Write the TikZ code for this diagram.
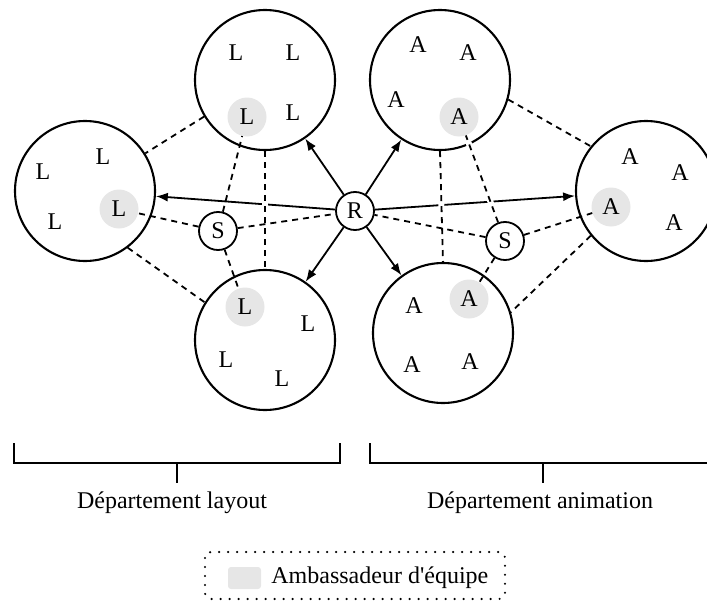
\documentclass[tikz,border=0pt]{standalone}
\usepackage{fontspec}
\setmainfont{Liberation Serif}[Ligatures=TeXOff]
\usepackage{tikz}
\usetikzlibrary{arrows.meta,positioning}
\definecolor{ambgrey}{RGB}{230,230,230}

\begin{document}
\begin{tikzpicture}[
    x=1pt, y=-1pt,
    font=\fontsize{24}{28}\selectfont,
    team/.style={circle, draw, line width=2.1pt, minimum size=140pt, inner sep=0pt},
    hub/.style={circle, draw, line width=1.8pt, minimum size=38pt, inner sep=0pt},
    member/.style={inner sep=0pt},
    amb/.style={circle, fill=ambgrey, minimum size=39pt, inner sep=0pt},
    arr/.style={-{Latex[length=12pt,width=9pt]}, line width=1.8pt},
    link/.style={line width=1.8pt, dash pattern=on 6pt off 5pt},
    gap/.style={draw=white, line width=6pt, shorten >=7pt, shorten <=7pt},
    bracket/.style={line width=1.8pt},
    legendbox/.style={line width=2.4pt, line cap=round, dash pattern=on 0pt off 9pt,
                      rounded corners=6pt},
    swatch/.style={rectangle, rounded corners=3pt, fill=ambgrey,
                   minimum width=33pt, minimum height=22pt, inner sep=0pt}
]
    \useasboundingbox (0,0) rectangle (707,605);
    \clip (0,0) rectangle (707,605);

    % teams of the layout department
    \node[team] (layA) at (265,80) {};
    \node[team] (layB) at (85,191) {};
    \node[team] (layC) at (265,340) {};
    % teams of the animation department
    \node[team] (aniA) at (440,80) {};
    \node[team] (aniB) at (646,191) {};
    \node[team] (aniC) at (443,333) {};

    % ambassadors
    \node[amb] (layAamb) at (247,117) {L};
    \node[amb] (layBamb) at (119,209) {L};
    \node[amb] (layCamb) at (245,307) {L};
    \node[amb] (aniAamb) at (459,117) {A};
    \node[amb] (aniBamb) at (611,207) {A};
    \node[amb] (aniCamb) at (469,299) {A};

    % members
    \foreach \x/\y [count=\i] in {236/53, 293/53, 293/113}
        \node[member] (layAm\i) at (\x,\y) {L};
    \foreach \x/\y [count=\i] in {43/172, 103/157, 55/222}
        \node[member] (layBm\i) at (\x,\y) {L};
    \foreach \x/\y [count=\i] in {308/324, 226/360, 282/379}
        \node[member] (layCm\i) at (\x,\y) {L};
    \foreach \x/\y [count=\i] in {418/45, 468/53, 396/100}
        \node[member] (aniAm\i) at (\x,\y) {A};
    \foreach \x/\y [count=\i] in {630/157, 680/173, 674/223}
        \node[member] (aniBm\i) at (\x,\y) {A};
    \foreach \x/\y [count=\i] in {414/306, 412/365, 470/362}
        \node[member] (aniCm\i) at (\x,\y) {A};

    \node[hub] (rep) at (355,211) {R};
    \node[hub] (supL) at (218,231) {S};
    \node[hub] (supR) at (505,241) {S};

    \foreach \t in {layA,layB,layC,aniA,aniB,aniC}
        \draw[arr] (rep) -- (\t);

    \draw[gap] (layA.south) -- (layC.north);
    \draw[gap] (aniA.south) -- (aniC.north);
    \draw[gap] (supR) -- (aniAamb);

    \draw[link] (layA.211) -- (layB.32);
    \draw[link] (layB.-53) -- (layC.148);
    \draw[link] (aniA.-16) -- (aniB.141);
    \draw[link] (aniB.219) -- (aniC.17);
    \draw[link] (layA.south) -- (layC.north);
    \draw[link] (aniA.south) -- (aniC.north);
    \foreach \t in {rep,layAamb,layBamb,layCamb}
        \draw[link] (supL) -- (\t);
    \foreach \t in {rep,aniAamb,aniBamb,aniCamb}
        \draw[link] (supR) -- (\t);

    % departments
    \draw[bracket] (14,443) -- (14,463) -- (340,463) -- (340,443);
    \draw[bracket] (177,463) -- (177,483);
    \node[anchor=base] (layDept) at (172,508) {Département layout};
    \draw[bracket] (370,443) -- (370,463) -- (716,463) -- (716,443);
    \draw[bracket] (543,463) -- (543,483);
    \node[anchor=base] (aniDept) at (540,508) {Département animation};

    % legend
    \draw[legendbox] (205,552) rectangle (505,599);
    \node[swatch] (key) at (244.5,578) {};
    \node[inner sep=0pt, right=10pt of key] (keytext) {Ambassadeur d'équipe};
\end{tikzpicture}
\end{document}
